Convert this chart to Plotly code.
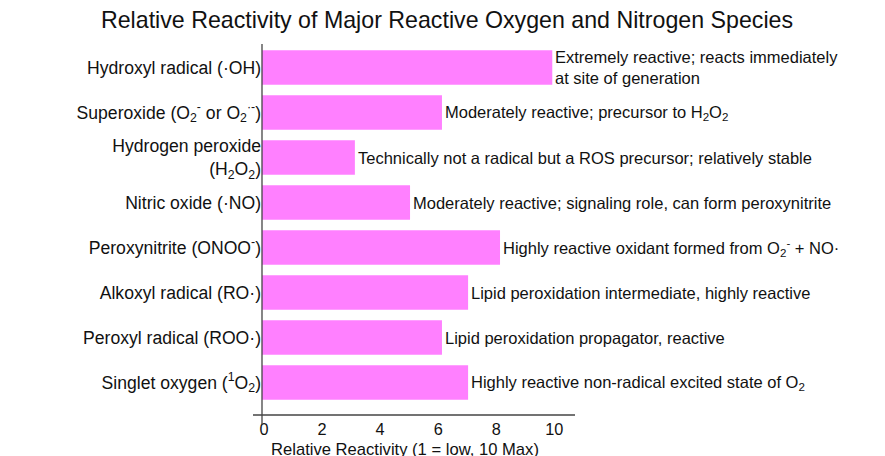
import plotly.graph_objects as go

species = [
    "Hydroxyl radical (·OH)",
    "Superoxide (O<sub>2</sub><sup>-</sup> or O<sub>2</sub><sup>·-</sup>)",
    "Hydrogen peroxide<br>(H<sub>2</sub>O<sub>2</sub>)",
    "Nitric oxide (·NO)",
    "Peroxynitrite (ONOO<sup>-</sup>)",
    "Alkoxyl radical (RO·)",
    "Peroxyl radical (ROO·)",
    "Singlet oxygen (<sup>1</sup>O<sub>2</sub>)",
]
reactivity = [10, 6.2, 3.2, 5.1, 8.2, 7.1, 6.2, 7.1]
notes = [
    "Extremely reactive; reacts immediately<br>at site of generation",
    "Moderately reactive; precursor to H<sub>2</sub>O<sub>2</sub>",
    "Technically not a radical but a ROS precursor; relatively stable",
    "Moderately reactive; signaling role, can form peroxynitrite",
    "Highly reactive oxidant formed from O<sub>2</sub><sup>-</sup> + NO·",
    "Lipid peroxidation intermediate, highly reactive",
    "Lipid peroxidation propagator, reactive",
    "Highly reactive non-radical excited state of O<sub>2</sub>",
]
x_ticks = [0, 2, 4, 6, 8, 10]

OFF = 8  # page body margin
W, H = 885, 456
L, R, T, B = 262.3 - OFF, 575 - OFF, 44 - OFF, 415 - OFF
pw, ph = R - L, B - T
px_per_unit = 29.0
row_px = 45.0
first_row_center = 67.5 - OFF

FONT = "Liberation Sans, Arial, Helvetica, sans-serif"
rows = list(range(len(species)))

fig = go.Figure()
fig.add_trace(go.Bar(
    x=reactivity,
    y=rows,
    orientation="h",
    marker=dict(color="#FF80FF", line=dict(width=0)),
    width=0.77,
    hoverinfo="skip",
))

y_top = -(first_row_center - T) / row_px
y_bot = (B - first_row_center) / row_px

note_annotations = [
    dict(text=n, x=v, y=r, xref="x", yref="y", xanchor="left", yanchor="middle",
         xshift=1, align="left", showarrow=False,
         font=dict(family=FONT, size=16.5, color="#111111"))
    for n, v, r in zip(notes, reactivity, rows)
]

fig.update_layout(
    width=W, height=H,
    margin=dict(l=L, r=W - R, t=T, b=H - B, pad=0),
    paper_bgcolor="white", plot_bgcolor="white",
    showlegend=False,
    font=dict(family=FONT, color="#111111"),
    title=dict(text="Relative Reactivity of Major Reactive Oxygen and Nitrogen Species",
               x=(447 - OFF) / W, xanchor="center", y=1 - (20 - OFF) / H, yanchor="middle",
               font=dict(family=FONT, size=23.2, color="#111111")),
    xaxis=dict(range=[0, pw / px_per_unit], tickvals=x_ticks, ticks="",
               ticklabelstandoff=3, ticklabelshift=2,
               showgrid=False, zeroline=False, showline=False,
               tickfont=dict(family=FONT, size=16.3, color="#111111")),
    yaxis=dict(range=[y_bot, y_top], tickvals=rows, ticktext=species,
               ticks="", showgrid=False, zeroline=False, showline=False,
               tickfont=dict(family=FONT, size=17.6, color="#111111")),
    shapes=[
        dict(type="line", xref="paper", yref="paper", x0=0, x1=0, y0=-10 / ph, y1=1,
             line=dict(color="#444444", width=1.3)),
        dict(type="line", xref="paper", yref="paper", x0=-9 / pw, x1=1, y0=0, y1=0,
             line=dict(color="#444444", width=1.3)),
    ],
    annotations=note_annotations + [
        dict(text="Relative Reactivity (1 = low, 10 Max)", xref="paper", yref="paper",
             x=(269 - OFF - L) / pw, xanchor="left", y=-(449 - OFF - B) / ph, yanchor="middle",
             showarrow=False, font=dict(family=FONT, size=16.6, color="#111111")),
    ],
)

fig.write_html("out.html")
